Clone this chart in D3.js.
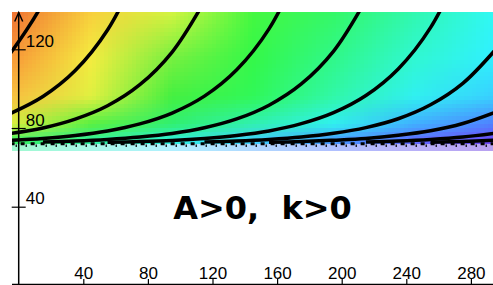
<!DOCTYPE html>
<html>
<head>
<meta charset="utf-8">
<title>A&gt;0, k&gt;0</title>
<script src="https://cdnjs.cloudflare.com/ajax/libs/d3/7.8.5/d3.min.js"></script>
<style>
  body { margin: 0; background: #fff; }
  svg { display: block; }
  .tick-label { font-family: "Liberation Sans", Arial, sans-serif; font-size: 17px; }
  .title { font-family: "DejaVu Sans", Verdana, sans-serif; font-weight: bold; font-size: 32px; fill: #000; white-space: pre; }
</style>
</head>
<body>
<div id="chart"></div>
<script>
const times = [-5, 15, 35, 55, 75, 95, 115, 135, 155, 175, 195, 215, 235, 255, 275, 295];

// solution curves (value at each time, null = not drawn)
const curve0 = [118.1, 143.6, 183.2, null, null, null, null, null, null, null, null, null, null, null, null, null];
const curve1 = [87.4, 96.0, 109.2, 129.8, 161.7, null, null, null, null, null, null, null, null, null, null, null];
const curve2 = [77.2, 80.0, 84.5, 91.3, 102.0, 118.6, 144.4, null, null, null, null, null, null, null, null, null];
const curve3 = [73.7, 74.7, 76.2, 78.5, 82.1, 87.6, 96.2, 109.6, 130.4, 162.7, null, null, null, null, null, null];
const curve4 = [null, 72.9, 73.4, 74.2, 75.4, 77.2, 80.1, 84.6, 91.6, 102.4, 119.1, 145.2, null, null, null, null];
const curve5 = [null, null, null, 72.7, 73.1, 73.7, 74.7, 76.2, 78.5, 82.2, 87.8, 96.5, 110.0, 131.0, 163.6, null];
const curve6 = [null, null, null, null, null, null, 72.9, 73.4, 74.2, 75.4, 77.3, 80.2, 84.7, 91.8, 102.7, 119.6];
const curve7 = [null, null, null, null, null, null, null, null, 72.7, 73.1, 73.8, 74.7, 76.3, 78.6, 82.3, 88.0];
const curve8 = [null, null, null, null, null, null, null, null, null, null, null, 72.9, 73.4, 74.2, 75.4, 77.3];
const curve9 = [null, null, null, null, null, null, null, null, null, null, null, null, null, 72.7, 73.2, 73.8];
const curves = [curve0, curve1, curve2, curve3, curve4, curve5, curve6, curve7, curve8, curve9];

const equilibrium = 72;
const xTicks = [40, 80, 120, 160, 200, 240, 280];
const yTicks = [40, 80, 120];
const title = 'A>0,  k>0';

// background colour samples (rows = values, columns = times)
const heatT = [-4, 45, 95, 145, 195, 245, 294];
const heatV = [138, 116, 96, 82, 73];
const heatColors = [
  ['#f07434', '#f8d03c', '#d0f440', '#44f840', '#34f868', '#30f8b0', '#30f8f4'],
  ['#f89838', '#f4ec40', '#78f040', '#34f848', '#30f888', '#30f8d0', '#30f0ff'],
  ['#f8c040', '#e0f040', '#44f040', '#30f858', '#30f8a8', '#30f0f0', '#38d0ff'],
  ['#d8f040', '#58f040', '#30f070', '#30f0b0', '#30f0f0', '#40b0ff', '#5080ff'],
  ['#38f060', '#30f0a0', '#30f0e0', '#40d0ff', '#4898ff', '#6068ff', '#7048f8']
];
const stripColors = ['#a0f8d0', '#a8f8e8', '#b0f0ff', '#b0d8ff', '#b0c0ff', '#b8b0f8', '#b8a0f0'];

const W = 493, H = 285;
const plot = { left: 12, right: 493, top: 12, bottom: 151 };

const x = d3.scaleLinear().domain([0, 280]).range([18.7, 470.9]);
const y = d3.scaleLinear().domain([0, 120]).range([285.4, 49.3]);

const svg = d3.select('#chart').append('svg')
  .attr('width', W)
  .attr('height', H);

svg.append('clipPath').attr('id', 'plot-clip')
  .append('rect')
  .attr('x', plot.left).attr('y', plot.top)
  .attr('width', plot.right - plot.left).attr('height', plot.bottom - plot.top);

// position of val between entries of arr -> [index, fraction]
function frac(arr, val) {
  for (let i = 0; i < arr.length - 1; i++) {
    const f = (val - arr[i]) / (arr[i + 1] - arr[i]);
    if (f <= 1 || i === arr.length - 2) return [i, Math.max(0, Math.min(1, f))];
  }
}

function cellColor(t, v) {
  const [i, fi] = frac(heatT, t);
  if (v < equilibrium - 0.8) return d3.interpolateRgb(stripColors[i], stripColors[i + 1])(fi);
  const [j, fj] = frac(heatV, v);
  const a = d3.interpolateRgb(heatColors[j][i], heatColors[j][i + 1])(fi);
  const b = d3.interpolateRgb(heatColors[j + 1][i], heatColors[j + 1][i + 1])(fi);
  return d3.interpolateRgb(a, b)(fj);
}

// heat map cells
const cell = 4;
const cells = [];
for (let px = plot.left; px < plot.right; px += cell) {
  for (let py = plot.top; py < plot.bottom; py += cell) {
    cells.push({ px, py, t: x.invert(px + cell / 2), v: y.invert(py + cell / 2) });
  }
}
const heat = svg.append('g').attr('clip-path', 'url(#plot-clip)');
heat.selectAll('rect')
  .data(cells)
  .enter()
  .append('rect')
  .attr('x', d => d.px)
  .attr('y', d => d.py)
  .attr('width', cell)
  .attr('height', cell)
  .attr('shape-rendering', 'crispEdges')
  .attr('fill', d => cellColor(d.t, d.v));

// curves
const line = d3.line()
  .defined(d => d[1] != null)
  .x(d => x(d[0]))
  .y(d => y(d[1]))
  .curve(d3.curveCatmullRom.alpha(0.5));

const curveG = svg.append('g').attr('clip-path', 'url(#plot-clip)');

// equilibrium line: thick dashes with a row of small ticks just below
curveG.append('line')
  .attr('x1', x(times[0]))
  .attr('x2', x(times[times.length - 1]))
  .attr('y1', y(equilibrium))
  .attr('y2', y(equilibrium))
  .attr('stroke', '#000')
  .attr('stroke-width', 3)
  .attr('stroke-dasharray', '4,6');
curveG.append('line')
  .attr('x1', x(times[0]) + 5)
  .attr('x2', x(times[times.length - 1]))
  .attr('y1', y(equilibrium) + 2)
  .attr('y2', y(equilibrium) + 2)
  .attr('stroke', '#000')
  .attr('stroke-width', 2.5)
  .attr('stroke-dasharray', '1.2,8.8');

curveG.selectAll('.sol')
  .data(curves)
  .enter()
  .append('path')
  .attr('class', 'sol')
  .attr('fill', 'none')
  .attr('stroke', '#000')
  .attr('stroke-width', 3.5)
  .attr('d', c => line(times.map((t, i) => [t, c[i]])));

// x axis
const xAxisY = y(0) - 0.9;
svg.append('line')
  .attr('x1', plot.left).attr('x2', plot.right)
  .attr('y1', xAxisY).attr('y2', xAxisY)
  .attr('stroke', '#000').attr('stroke-width', 1.5);

const xAxis = svg.append('g')
  .attr('transform', `translate(0,${xAxisY})`)
  .call(d3.axisTop(x).tickValues(xTicks).tickSize(5.5).tickFormat(d3.format('d')));
xAxis.select('.domain').remove();
xAxis.selectAll('.tick line').attr('stroke', '#000').attr('stroke-width', 1.2);
xAxis.selectAll('.tick text')
  .attr('class', 'tick-label')
  .attr('fill', '#000')
  .attr('y', -6)
  .attr('dy', null);

// y axis with arrow
const yAxisX = x(0);
svg.append('line')
  .attr('x1', yAxisX).attr('x2', yAxisX)
  .attr('y1', H).attr('y2', plot.top + 0.5)
  .attr('stroke', '#000').attr('stroke-width', 1.5);
svg.append('path')
  .attr('d', `M${yAxisX - 4},${plot.top + 9.5}L${yAxisX},${plot.top + 0.5}L${yAxisX + 4},${plot.top + 9.5}`)
  .attr('fill', 'none').attr('stroke', '#000').attr('stroke-width', 1.5);

const yAxis = svg.append('g')
  .attr('transform', `translate(${yAxisX},0)`)
  .call(d3.axisRight(y).tickValues(yTicks).tickSize(7).tickFormat(d3.format('d')));
yAxis.select('.domain').remove();
yAxis.selectAll('.tick line')
  .attr('x1', -7).attr('x2', 7)
  .attr('stroke', '#000').attr('stroke-width', 1.2);
yAxis.selectAll('.tick text')
  .attr('class', 'tick-label')
  .attr('fill', '#000')
  .attr('x', 7)
  .attr('y', -3)
  .attr('dy', null);

// label
svg.append('text')
  .attr('class', 'title')
  .attr('x', x(151))
  .attr('y', y(33.5))
  .attr('text-anchor', 'middle')
  .text(title);
</script>
</body>
</html>
